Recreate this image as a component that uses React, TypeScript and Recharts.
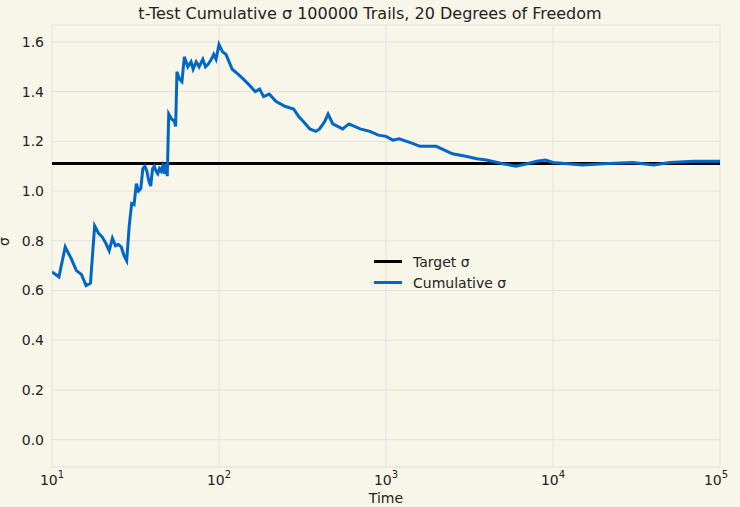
import React from "react";
import { LineChart, Line, XAxis, YAxis, CartesianGrid } from "recharts";

const times = [10,11,12,13,14,15,16,17,18,19,20,21,22,23,24,25,26,27,28,29,30,31,32,33,34,35,36,37,38,39,40,41,42,43,44,45,46,47,48,49,50,52,54,55,56,58,60,62,65,68,70,73,76,80,83,86,90,93,96,100,105,110,120,130,140,150,165,175,185,200,220,250,280,300,320,350,380,400,430,450,480,550,600,700,800,900,1000,1100,1200,1400,1600,2000,2500,3000,3500,4000,5000,6000,7000,8000,9000,10000,15000,20000,30000,40000,50000,70000,100000];
const cumulative = [0.675,0.655,0.775,0.73,0.68,0.665,0.62,0.63,0.86,0.83,0.815,0.79,0.76,0.81,0.78,0.785,0.775,0.74,0.72,0.86,0.95,0.945,1.03,1.0,1.01,1.09,1.1,1.08,1.04,1.02,1.09,1.1,1.08,1.07,1.09,1.08,1.1,1.07,1.11,1.06,1.31,1.29,1.28,1.26,1.48,1.45,1.44,1.54,1.5,1.52,1.49,1.52,1.5,1.53,1.5,1.51,1.53,1.55,1.53,1.59,1.56,1.55,1.49,1.47,1.45,1.43,1.4,1.41,1.38,1.39,1.36,1.34,1.33,1.3,1.28,1.25,1.24,1.25,1.28,1.31,1.27,1.25,1.27,1.25,1.24,1.225,1.22,1.205,1.21,1.195,1.18,1.18,1.15,1.14,1.13,1.125,1.11,1.1,1.11,1.12,1.125,1.115,1.105,1.11,1.115,1.105,1.115,1.12,1.12];
const targetSigma = 1.111;
const xTicks = [10, 100, 1000, 10000, 100000];
const yTicks = [0, 0.2, 0.4, 0.6, 0.8, 1.0, 1.2, 1.4, 1.6];
const legendItems = [
  { name: "Target σ", color: "#000" },
  { name: "Cumulative σ", color: "#0066c8" },
];

const data = times.map((t, i) => ({ t, cum: cumulative[i], target: targetSigma }));
const font = "DejaVu Sans, sans-serif";

const XTick = (props: any) => {
  const { x, y, payload } = props;
  const exp = Math.round(Math.log10(payload.value));
  return (
    <text x={x} y={y + 10} textAnchor="middle" fill="#222" fontSize={14} fontFamily={font}>
      10<tspan dy={-7} fontSize={10}>{exp}</tspan>
    </text>
  );
};

export default function App() {
  return (
    <div style={{ position: "absolute", left: 0, top: 0, width: 740, height: 507, background: "#f8f6e9" }}>
      <div style={{ position: "absolute", top: 4, width: 740, textAlign: "center", fontFamily: font, fontSize: 16, color: "#222" }}>
        t-Test Cumulative σ 100000 Trails, 20 Degrees of Freedom
      </div>
      <LineChart width={740} height={507} data={data} margin={{ top: 25, right: 20, bottom: 0, left: 0 }}>
        <CartesianGrid stroke="#e0e0e0" strokeWidth={1} />
        <XAxis dataKey="t" type="number" scale="log" domain={[10, 100000]} ticks={xTicks} tick={<XTick />}
          axisLine={false} tickLine={false} height={40} allowDataOverflow
          label={{ value: "Time", position: "insideBottom", offset: 4, fill: "#222", fontSize: 14, fontFamily: font }} />
        <YAxis type="number" domain={[-0.11, 1.668]} ticks={yTicks} width={52} axisLine={false} tickLine={false}
          tickFormatter={(v: number) => v.toFixed(1)} allowDataOverflow
          tick={{ fill: "#222", fontSize: 14, fontFamily: font }}
          label={{ value: "σ", angle: -90, position: "insideLeft", offset: 4, fill: "#222", fontSize: 14, fontFamily: font }} />
        <Line dataKey="target" name="Target σ" stroke="#000" strokeWidth={3} dot={false} isAnimationActive={false} />
        <Line dataKey="cum" name="Cumulative σ" stroke="#0066c8" strokeWidth={3} dot={false} isAnimationActive={false} />
      </LineChart>
      <div style={{ position: "absolute", left: 374, top: 251, fontFamily: font, fontSize: 14, color: "#222" }}>
        {legendItems.map((it) => (
          <div key={it.name} style={{ display: "flex", alignItems: "center", height: 21 }}>
            <div style={{ width: 28, height: 3, background: it.color, marginRight: 11 }} />
            <span>{it.name}</span>
          </div>
        ))}
      </div>
    </div>
  );
}
